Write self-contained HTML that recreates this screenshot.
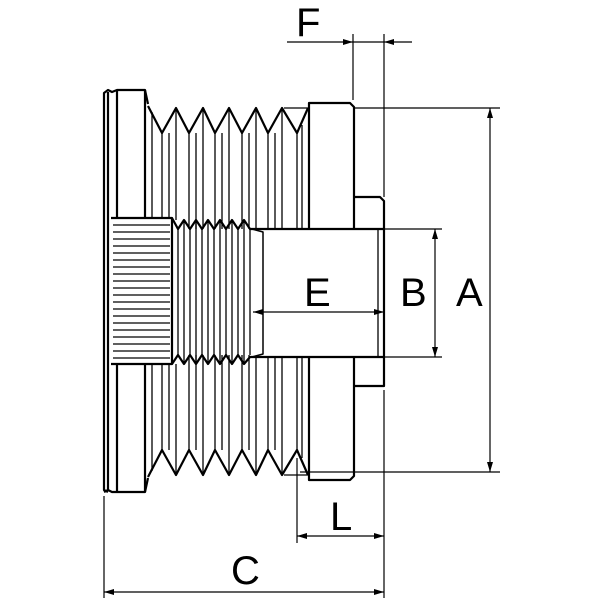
<!DOCTYPE html>
<html><head><meta charset="utf-8"><style>html,body{margin:0;padding:0;background:#fff}svg{display:block}</style></head>
<body>
<svg width="600" height="600" viewBox="0 0 600 600" xmlns="http://www.w3.org/2000/svg">
<defs>
<marker id="ar" viewBox="0 0 10 6" refX="10" refY="3" markerWidth="16" markerHeight="6" markerUnits="userSpaceOnUse" orient="auto-start-reverse"><path d="M0,0L10,3L0,6z" fill="#000"/></marker>
</defs>
<g fill="none" stroke="#000" stroke-width="2.2" stroke-linejoin="round">
<path d="M108,492 L104,490 L104,93 L108,90 L112,92 L117,90 L145,90 L148,104"/>
<path d="M104,492 L108,490 L112,492 L117,492 L145,492 L148,478"/>
<line x1="108" y1="92" x2="108" y2="490"/>
<line x1="117" y1="90" x2="117" y2="218"/>
<line x1="117" y1="364" x2="117" y2="492"/>
<line x1="145" y1="90" x2="145" y2="218"/>
<line x1="145" y1="364" x2="145" y2="492"/>
<polyline points="148,106 162,133 176,108 189,133 203,108 215,133 229,108 242,133 256,108 268,133 282,108 297,133 308,108"/>
<polyline points="148,477 162,450 176,475 189,450 203,475 215,450 229,475 242,450 256,475 268,450 282,475 297,450 308,475"/>
<line x1="284" y1="108" x2="308" y2="108" stroke-width="1.2"/>
<line x1="284" y1="475" x2="308" y2="475" stroke-width="1.2"/>
<!-- hub flange -->
<path d="M309,229 L309,103 L350,103 L354,107 L354,229"/>
<path d="M309,357 L309,480 L350,480 L354,476 L354,357"/>
<!-- boss -->
<path d="M354,197 L380,197 L384,201 L384,386 L354,386"/>
<!-- bore -->
<path d="M252,229 L384,229"/>
<path d="M252,357 L384,357"/>
<path d="M252,229 L263,232 L263,354 L252,357" stroke-width="1.5"/>
<path d="M111,218 L172,218 L172,364 L111,364"/>
<polyline points="172,218 178,229 184,220 190,229 196,220 202,229 208,220 214,229 220,220 226,229 232,220 238,229 244,220 250,229 252,229"/>
<polyline points="172,364 178,355 184,364 190,355 196,364 202,355 208,364 214,355 220,364 226,355 232,364 238,355 244,364 250,357 252,357"/>
</g>
<g stroke="#000" stroke-width="1.3">
<line x1="152" y1="112" x2="152" y2="218"/><line x1="152" y1="364" x2="152" y2="471"/>
<line x1="162" y1="133" x2="162" y2="218"/><line x1="162" y1="364" x2="162" y2="450"/>
<line x1="169" y1="133" x2="169" y2="218"/><line x1="169" y1="364" x2="169" y2="450"/>
<line x1="176" y1="108" x2="176" y2="220"/><line x1="176" y1="364" x2="176" y2="475"/>
<line x1="189" y1="133" x2="189" y2="229"/><line x1="189" y1="355" x2="189" y2="450"/>
<line x1="196" y1="133" x2="196" y2="229"/><line x1="196" y1="355" x2="196" y2="450"/>
<line x1="203" y1="108" x2="203" y2="229"/><line x1="203" y1="355" x2="203" y2="475"/>
<line x1="215" y1="133" x2="215" y2="229"/><line x1="215" y1="355" x2="215" y2="450"/>
<line x1="222" y1="133" x2="222" y2="229"/><line x1="222" y1="355" x2="222" y2="450"/>
<line x1="229" y1="108" x2="229" y2="229"/><line x1="229" y1="355" x2="229" y2="475"/>
<line x1="242" y1="133" x2="242" y2="229"/><line x1="242" y1="355" x2="242" y2="450"/>
<line x1="249" y1="133" x2="249" y2="229"/><line x1="249" y1="355" x2="249" y2="450"/>
<line x1="256" y1="108" x2="256" y2="229"/><line x1="256" y1="357" x2="256" y2="475"/>
<line x1="268" y1="133" x2="268" y2="229"/><line x1="268" y1="357" x2="268" y2="450"/>
<line x1="275" y1="133" x2="275" y2="229"/><line x1="275" y1="357" x2="275" y2="450"/>
<line x1="282" y1="108" x2="282" y2="229"/><line x1="282" y1="357" x2="282" y2="475"/>
<line x1="297" y1="133" x2="297" y2="229"/><line x1="297" y1="357" x2="297" y2="450"/>
<line x1="302" y1="125" x2="302" y2="229"/><line x1="302" y1="357" x2="302" y2="458"/>
<line x1="178" y1="229" x2="178" y2="355"/><line x1="184" y1="220" x2="184" y2="364"/>
<line x1="190" y1="229" x2="190" y2="355"/><line x1="196" y1="220" x2="196" y2="364"/>
<line x1="202" y1="229" x2="202" y2="355"/><line x1="208" y1="220" x2="208" y2="364"/>
<line x1="214" y1="229" x2="214" y2="355"/><line x1="220" y1="220" x2="220" y2="364"/>
<line x1="226" y1="229" x2="226" y2="355"/><line x1="232" y1="220" x2="232" y2="364"/>
<line x1="238" y1="229" x2="238" y2="355"/><line x1="244" y1="220" x2="244" y2="364"/>
<line x1="250" y1="229" x2="250" y2="355"/>
<line x1="113" y1="225" x2="170" y2="225"/><line x1="113" y1="232" x2="170" y2="232"/>
<line x1="113" y1="239" x2="170" y2="239"/><line x1="113" y1="246" x2="170" y2="246"/>
<line x1="113" y1="253" x2="170" y2="253"/><line x1="113" y1="260" x2="170" y2="260"/>
<line x1="113" y1="267" x2="170" y2="267"/><line x1="113" y1="274" x2="170" y2="274"/>
<line x1="113" y1="281" x2="170" y2="281"/><line x1="113" y1="288" x2="170" y2="288"/>
<line x1="113" y1="295" x2="170" y2="295"/><line x1="113" y1="302" x2="170" y2="302"/>
<line x1="113" y1="309" x2="170" y2="309"/><line x1="113" y1="316" x2="170" y2="316"/>
<line x1="113" y1="323" x2="170" y2="323"/><line x1="113" y1="330" x2="170" y2="330"/>
<line x1="113" y1="337" x2="170" y2="337"/><line x1="113" y1="344" x2="170" y2="344"/>
<line x1="113" y1="351" x2="170" y2="351"/><line x1="113" y1="358" x2="170" y2="358"/>
<line x1="378" y1="229" x2="378" y2="357"/>
</g>
<g stroke="#000" stroke-width="1.2" fill="none">
<line x1="353" y1="34" x2="353" y2="100"/>
<line x1="384" y1="34" x2="384" y2="197"/>
<line x1="287" y1="42" x2="353" y2="42" marker-end="url(#ar)"/>
<line x1="353" y1="42" x2="384" y2="42"/>
<line x1="412" y1="42" x2="384" y2="42" marker-end="url(#ar)"/>
<line x1="355" y1="108" x2="500" y2="108"/>
<line x1="300" y1="472" x2="500" y2="472"/>
<line x1="490" y1="108" x2="490" y2="472" marker-start="url(#ar)" marker-end="url(#ar)"/>
<line x1="384" y1="229" x2="442" y2="229"/>
<line x1="384" y1="357" x2="442" y2="357"/>
<line x1="435" y1="229" x2="435" y2="357" marker-start="url(#ar)" marker-end="url(#ar)"/>
<line x1="253" y1="312" x2="384" y2="312" marker-start="url(#ar)" marker-end="url(#ar)"/>
<line x1="384" y1="390" x2="384" y2="598"/>
<line x1="104" y1="496" x2="104" y2="598"/>
<line x1="297" y1="458" x2="297" y2="543"/>
<line x1="297" y1="536" x2="384" y2="536" marker-start="url(#ar)" marker-end="url(#ar)"/>
<line x1="104" y1="592" x2="384" y2="592" marker-start="url(#ar)" marker-end="url(#ar)"/>
</g>
<g font-family="Liberation Sans, sans-serif" font-size="40" fill="#000">
<text x="296" y="36">F</text>
<text x="304" y="306">E</text>
<text x="400" y="306">B</text>
<text x="456" y="306">A</text>
<text x="330" y="530">L</text>
<text x="231" y="584">C</text>
</g>
</svg>
</body></html>
